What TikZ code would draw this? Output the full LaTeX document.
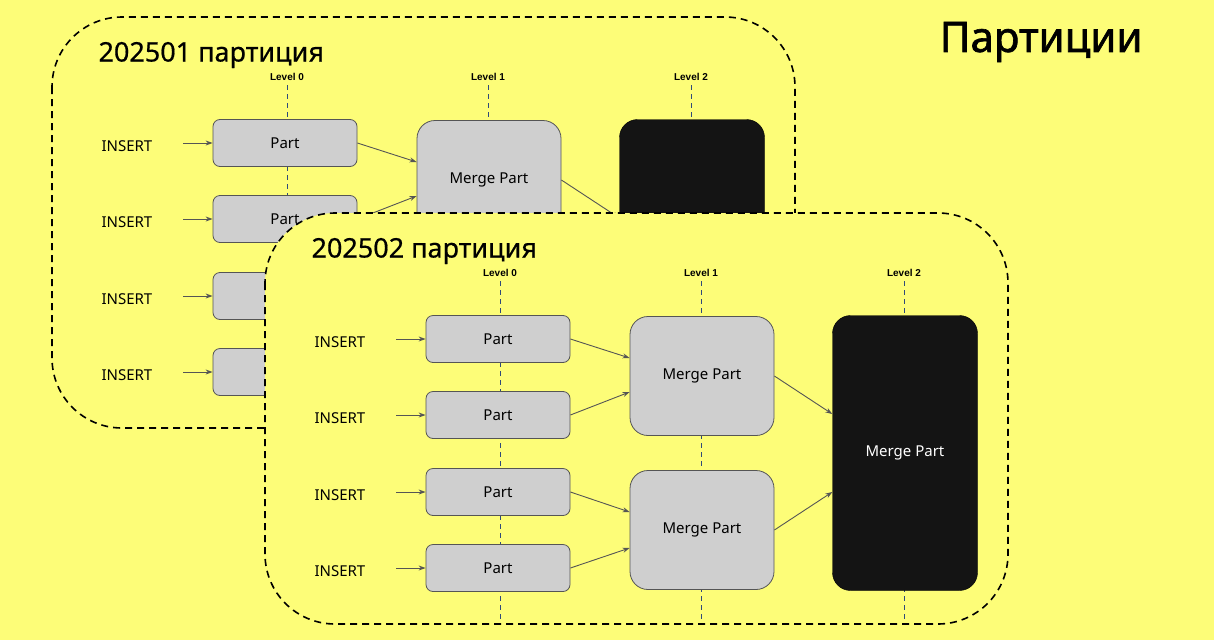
\documentclass[tikz,border=0pt]{standalone}
\usepackage{fontspec}
\setmainfont{Noto Sans}
\newfontfamily\arialf{Liberation Sans}
\newfontfamily\boldtitle{Noto Sans}[FakeBold=1.5]
\newfontfamily\semititle{Noto Sans}[FakeBold=0.6]
\usetikzlibrary{arrows.meta}
\definecolor{bg}{HTML}{FDFD78}
\definecolor{boxg}{HTML}{CFCFCF}
\definecolor{lvl}{HTML}{2F4A7A}
\definecolor{conn}{HTML}{555555}
\tikzset{
 panel/.style={draw=black,line width=1.6pt,dash pattern=on 7pt off 5pt,rounded corners=70pt,fill=bg},
 part/.style={draw=conn,fill=boxg,rounded corners=7pt,minimum width=144pt,minimum height=47pt,font=\fontsize{15}{15}\selectfont,line width=0.8pt},
 merge/.style={part,minimum height=119pt,rounded corners=18pt},
 big/.style={draw=black,fill=black!92,rounded corners=18pt,minimum width=145pt,minimum height=275pt,text=white,font=\fontsize{15}{15}\selectfont},
 ins/.style={anchor=west,font=\fontsize{15}{15}\selectfont},
 lvlab/.style={font=\arialf\bfseries\fontsize{10}{10}\selectfont},
 lvline/.style={draw=lvl,line width=0.9pt,dash pattern=on 5pt off 4pt},
 arr/.style={draw=conn,line width=0.9pt,-{Stealth[length=7pt,width=5pt]}},
 ttl/.style={anchor=west,font=\semititle\fontsize{27}{27}\selectfont},
}
\newcommand\mypanel[4]{%
\begin{scope}[shift={(#3,#4)}]
 \draw[panel] (52,17) rectangle (795,428);
 \node[ttl] (#1t) at (95,55) {#2};
 \foreach \x/\l in {287/0,488/1,691/2}{\node[lvlab] at (\x,77) {Level \l};}
 \draw[lvline] (287,85) -- (287,426);
 \draw[lvline] (488,85) -- (488,426);
 \draw[lvline] (691,85) -- (691,426);
 \foreach \i/\y in {1/143,2/219,3/296,4/372}{
  \node[part] (#1p\i) at (285,\y) {Part};
  \node[ins] (#1i\i) at (98,\y+3) {INSERT};
  \coordinate (#1a\i) at (183,\y);
  \draw[arr] (#1a\i) -- (#1p\i.west);
 }
 \node[merge] (#1m1) at (489,180) {Merge Part};
 \node[merge] (#1m2) at (489,334) {Merge Part};
 \node[big] (#1b) at (692,257) {Merge Part};
 \draw[arr] (#1p1.east) -- ([yshift=18pt]#1m1.west);
 \draw[arr] (#1p2.east) -- ([yshift=-16pt]#1m1.west);
 \draw[arr] (#1p3.east) -- ([yshift=18pt]#1m2.west);
 \draw[arr] (#1p4.east) -- ([yshift=-18pt]#1m2.west);
 \draw[arr] (#1m1.east) -- ([yshift=39pt]#1b.west);
 \draw[arr] (#1m2.east) -- ([yshift=-39pt]#1b.west);
\end{scope}}
\begin{document}
\begin{tikzpicture}[x=1pt,y=-1pt]
\fill[bg] (0,0) rectangle (1214,640);
\useasboundingbox (0,0) rectangle (1214,640);
\node[anchor=east,font=\boldtitle\fontsize{42}{42}\selectfont] (T) at (1146,42) {Партиции};
\mypanel{A}{202501 партиция}{0}{0}
\mypanel{B}{202502 партиция}{213}{196}
\end{tikzpicture}
\end{document}
